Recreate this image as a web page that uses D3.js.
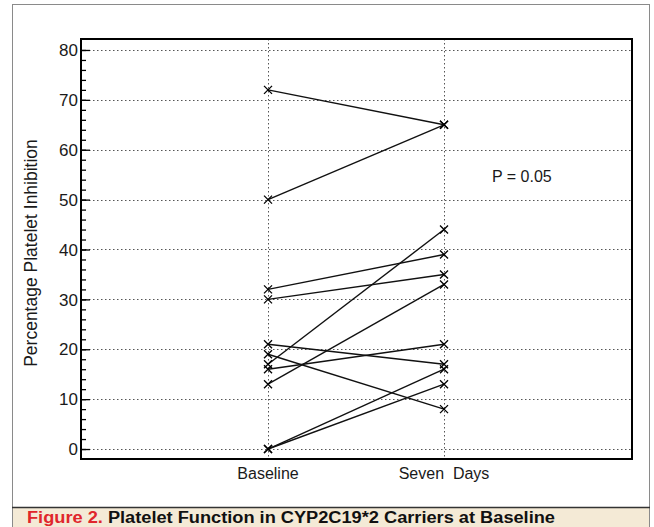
<!DOCTYPE html>
<html><head><meta charset="utf-8">
<script src="https://cdn.jsdelivr.net/npm/d3@7/dist/d3.min.js"></script>
<style>
html,body{margin:0;padding:0;background:#fff;}
svg{display:block;font-family:"Liberation Sans",Arial,sans-serif;}
</style></head>
<body>
<svg id="c" width="654" height="527"></svg>
<script>
const categories = ["Baseline", "Seven  Days"];
const baselineValues = [72, 50, 32, 30, 17, 13, 21, 19, 16, 0, 0];
const sevenDayValues = [65, 65, 39, 35, 44, 33, 17, 8, 21, 16, 13];
const yTickValues = [0, 10, 20, 30, 40, 50, 60, 70, 80];
const yMinorTicks = d3.range(0, 81, 2);
const annotation = "P = 0.05";
const yTitle = "Percentage Platelet Inhibition";
const captionLabel = "Figure 2.";
const captionText = " Platelet Function in CYP2C19*2 Carriers at Baseline";

const svg = d3.select("#c");
const L = 81, R = 632, T = 39, B = 459;

// outer panel
svg.append("rect").attr("x", 12.5).attr("y", 4.5).attr("width", 637).attr("height", 540)
  .attr("fill", "#fff").attr("stroke", "#8a8a8a").attr("stroke-width", 1);
svg.append("rect").attr("x", 12.5).attr("y", 507.5).attr("width", 637).attr("height", 40)
  .attr("fill", "#f4ead6").attr("stroke", "#8a8a8a").attr("stroke-width", 1);
svg.append("line").attr("x1", 12).attr("x2", 650).attr("y1", 507.5).attr("y2", 507.5)
  .attr("stroke", "#333").attr("stroke-width", 1.5);

const x = d3.scaleLinear().domain([-1.0625, 2.068]).range([L, R]);
const y = d3.scaleLinear().domain([-2.0, 82.2]).range([B, T]);

// horizontal grid
svg.append("g").selectAll("line").data(yTickValues).join("line")
  .attr("x1", L).attr("x2", R)
  .attr("y1", d => Math.round(y(d)) + 0.5).attr("y2", d => Math.round(y(d)) + 0.5)
  .attr("stroke", "#555").attr("stroke-width", 1).attr("stroke-dasharray", "1.5,2.5");
// vertical grid
svg.append("g").selectAll("line").data(categories).join("line")
  .attr("x1", (d, i) => Math.round(x(i)) + 0.5).attr("x2", (d, i) => Math.round(x(i)) + 0.5)
  .attr("y1", T).attr("y2", B)
  .attr("stroke", "#555").attr("stroke-width", 1).attr("stroke-dasharray", "1.5,2.5");

// y axis ticks (inward)
const yAxisMajor = d3.axisRight(y).tickValues(yTickValues).tickSize(9).tickFormat("");
const yAxisMinor = d3.axisRight(y).tickValues(yMinorTicks).tickSize(5).tickFormat("");
const gMin = svg.append("g").attr("transform", `translate(${L},0)`).call(yAxisMinor);
const gMaj = svg.append("g").attr("transform", `translate(${L},0)`).call(yAxisMajor);
[gMin, gMaj].forEach(g => { g.select(".domain").remove(); g.selectAll("line").attr("stroke", "#000").attr("stroke-width", 1.3); });

// tick labels
svg.append("g").selectAll("text").data(yTickValues).join("text")
  .attr("x", 78).attr("y", d => y(d)).attr("dy", "0.36em")
  .attr("text-anchor", "end").attr("font-size", 17).attr("fill", "#1a1a1a")
  .text(d => d);

// frame
svg.append("rect").attr("x", L).attr("y", T).attr("width", R - L).attr("height", B - T)
  .attr("fill", "none").attr("stroke", "#000").attr("stroke-width", 2);

// pairs
const pairs = baselineValues.map((b, i) => [b, sevenDayValues[i]]);
svg.append("g").selectAll("line").data(pairs).join("line")
  .attr("x1", x(0)).attr("x2", x(1))
  .attr("y1", d => y(d[0])).attr("y2", d => y(d[1]))
  .attr("stroke", "#111").attr("stroke-width", 1.4);

// markers
const pts = [];
pairs.forEach(p => { pts.push([0, p[0]]); pts.push([1, p[1]]); });
const s = 4;
svg.append("g").selectAll("path").data(pts).join("path")
  .attr("d", d => {
    const cx = x(d[0]), cy = y(d[1]);
    return `M${cx - s},${cy - s}L${cx + s},${cy + s}M${cx - s},${cy + s}L${cx + s},${cy - s}`;
  })
  .attr("stroke", "#000").attr("stroke-width", 1.3).attr("fill", "none");

// category labels
svg.append("g").selectAll("text").data(categories).join("text")
  .attr("x", (d, i) => x(i)).attr("y", 479)
  .attr("text-anchor", "middle").attr("font-size", 16).attr("fill", "#1a1a1a")
  .style("white-space", "pre")
  .text(d => d);

// annotation
svg.append("text").attr("x", 492).attr("y", 182).attr("font-size", 16).attr("fill", "#1a1a1a")
  .text(annotation);

// y title
svg.append("text").attr("transform", "translate(36.5,253) rotate(-90)")
  .attr("text-anchor", "middle").attr("font-size", 17.5).attr("fill", "#1a1a1a")
  .text(yTitle);

// caption
const cap = svg.append("text").attr("x", 27).attr("y", 523).attr("font-size", 16)
  .attr("font-weight", "bold").style("white-space", "pre")
  .attr("textLength", 528).attr("lengthAdjust", "spacingAndGlyphs");
cap.append("tspan").attr("fill", "#e0262c").text(captionLabel);
cap.append("tspan").attr("fill", "#111").text(captionText);
</script>
</body></html>
